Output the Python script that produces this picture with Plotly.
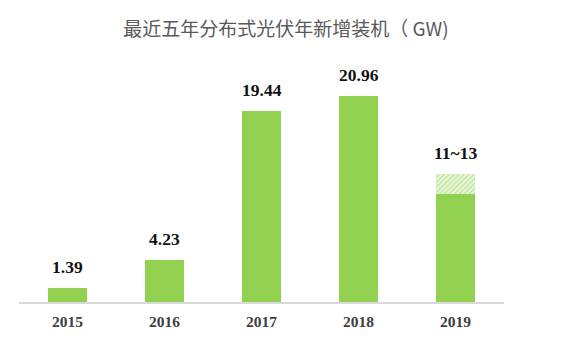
import plotly.graph_objects as go

years = ["2015", "2016", "2017", "2018", "2019"]
installed = [1.39, 4.23, 19.44, 20.96, 11]
range_extra = [0, 0, 0, 0, 2]          # 2019 forecast range 11~13
labels = ["1.39", "4.23", "19.44", "20.96", "11~13"]
tops = [a + b for a, b in zip(installed, range_extra)]

green = "#92D050"

fig = go.Figure()
fig.add_trace(go.Bar(x=years, y=installed, marker=dict(color=green, line=dict(width=0)),
                     hoverinfo="skip"))
fig.add_trace(go.Bar(x=years, y=range_extra,
                     marker=dict(color="white", line=dict(width=0),
                                 pattern=dict(shape="/", fgcolor=green, bgcolor="white",
                                              size=3.5, solidity=0.7)),
                     hoverinfo="skip"))

# category axis: annotation x given as category index
for i, (y, t) in enumerate(zip(tops, labels)):
    fig.add_annotation(x=i, y=y, text=t, showarrow=False, yanchor="bottom", yshift=9,
                       font=dict(family="Liberation Serif", size=17.5, color="#111111",
                                 weight="bold"),
                       xref="x", yref="y")

fig.update_layout(
    width=572, height=343,
    barmode="stack", bargap=0.6, showlegend=False,
    paper_bgcolor="white", plot_bgcolor="white",
    margin=dict(l=19, r=68, t=60, b=41),
    title=dict(text="最近五年分布式光伏年新增装机（ GW)", x=0.5, xref="container",
               y=0.915, yanchor="middle",
               font=dict(family="Noto Sans CJK SC", size=19, color="#595959")),
    xaxis=dict(type="category", range=[-0.5, len(years) - 0.5],
               showline=True, linecolor="#D9D9D9", linewidth=1.5,
               ticks="", showgrid=False, ticklabelstandoff=5,
               tickfont=dict(family="Liberation Serif", size=15.5, color="#404040",
                             weight="bold")),
    yaxis=dict(visible=False, range=[0, 24.6], showgrid=False),
)

fig.write_html("out.html")
